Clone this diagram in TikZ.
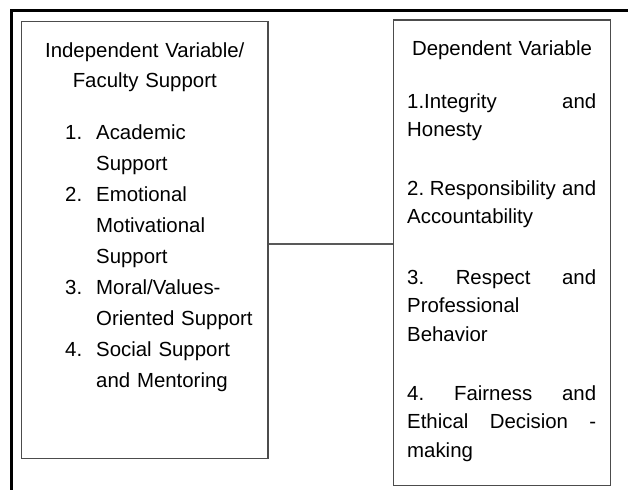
\documentclass[tikz,border=0pt]{standalone}
\usepackage{fontspec}
\setmainfont{Liberation Sans}
\begin{document}
\begin{tikzpicture}[x=1pt,y=-1pt,
  frameline/.style={line width=2.5pt,black},
  varbox/.style={draw=black!70,line width=1.5pt,rectangle,inner sep=0pt},
  link/.style={draw=black!65,line width=1.5pt},
  label/.style={inner sep=0pt,text=black,font=\fontsize{20.4}{30.5}\selectfont},
  leftlist/.style={label,anchor=base west,text width=200pt,align=left,
    font=\fontsize{20.4}{31}\selectfont},
  rightpara/.style={label,anchor=base west,text width=189pt,align=justify,
    font=\fontsize{20.4}{28.7}\selectfont}]
\useasboundingbox (0,0) rectangle (628,490);

% outer frame: top and left rules only
\coordinate (fTL) at (11.3,10.5);
\coordinate (fTR) at (628,10.5);
\coordinate (fBL) at (11.3,490);
\draw[frameline] (fTR) -- (fTL) -- (fBL);

% the two variable boxes
\node[varbox,minimum width=246.5pt,minimum height=437pt] (L) at (144.75,239.8) {};
\node[varbox,minimum width=217.4pt,minimum height=465.3pt] (R) at (502,252.7) {};

% connector between the boxes
\coordinate (linky) at (0,244);
\draw[link] (L.east |- linky) -- (R.west |- linky);

% independent variable
\node[label,anchor=base,text width=246pt,align=center] (Lhead) at (144.75,57)
  {Independent Variable/\\Faculty Support};
\node[leftlist] (Llist) at (65,139)
  {\makebox[31pt][l]{1.}Academic\\
   \hspace*{31pt}Support\\
   \makebox[31pt][l]{2.}Emotional\\
   \hspace*{31pt}Motivational\\
   \hspace*{31pt}Support\\
   \makebox[31pt][l]{3.}Moral/Values-\\
   \hspace*{31pt}Oriented Support\\
   \makebox[31pt][l]{4.}Social Support\\
   \hspace*{31pt}and Mentoring};

% dependent variable
\node[label,anchor=base,text width=190pt,align=center] (Rhead) at (502,55)
  {Dependent Variable};
\node[rightpara] (R1) at (407,108)
  {1.Integrity\hfill and\par Honesty};
\node[rightpara] (R2) at (407,195)
  {2.\ Responsibility\hfill and\par Accountability};
\node[rightpara] (R3) at (407,284)
  {3.\hfill Respect\hfill and\par Professional\par Behavior};
\node[rightpara] (R4) at (407,400)
  {4.\hfill Fairness\hfill and\par Ethical\hfill Decision\hfill -\par making};
\end{tikzpicture}
\end{document}
